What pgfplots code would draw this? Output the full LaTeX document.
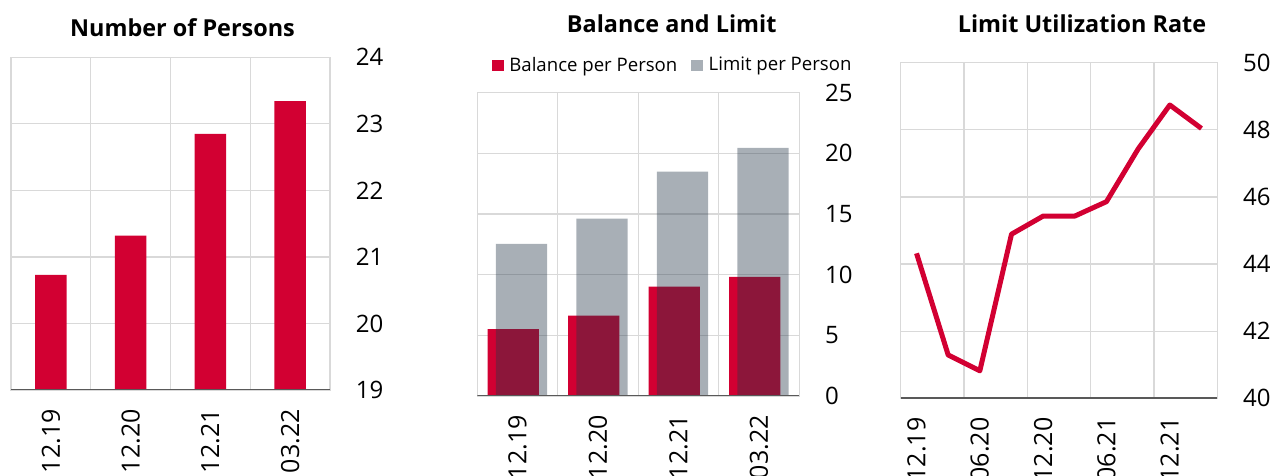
\documentclass[border=0pt]{standalone}
\usepackage{fontspec}
\setmainfont{Open Sans}
\usepackage{pgfplots}
\pgfplotsset{compat=1.18}

\definecolor{brandred}{RGB}{210,0,50}
\definecolor{slate}{RGB}{37,55,72}
\definecolor{gridgray}{RGB}{217,217,217}
\definecolor{axisdark}{RGB}{89,89,89}

\pgfplotsset{
  panel/.style={
    scale only axis,
    axis line style={draw=gridgray, line width=0.6pt},
    grid style={draw=gridgray, line width=0.6pt},
    ymajorgrids, xminorgrids,
    tick style={draw=none},
    major tick length=0pt, minor tick length=0pt,
    yticklabel pos=right,
    /pgf/number format/assume math mode=true,
    tick label style={inner sep=0pt},
    yticklabel style={anchor=west, font=\fontsize{12}{14}\selectfont},
    yticklabel shift=12.7pt,
    xticklabel style={rotate=90, anchor=east, font=\fontsize{12.5}{14}\selectfont},
    xticklabel shift=9.5pt,
    title style={font=\bfseries\fontsize{11.7}{14}\selectfont, anchor=base},
  }
}

\begin{document}
\begin{tikzpicture}
% Number of Persons
\begin{axis}[panel, at={(5.5pt,43pt)}, anchor=south west,
    width=159.5pt, height=166.35pt,
    xmin=-0.5, xmax=3.5, ymin=19, ymax=24, ytick={19,...,24},
    xtick={0,1,2,3}, xticklabels={12.19,12.20,12.21,03.22},
    minor xtick={0.5,1.5,2.5},
    title={Number of Persons}, title style={at={(0.5376,1.0273)}},
    ybar, bar width=15.85pt]
\addplot[fill=brandred, draw=none] coordinates {(0,20.73) (1,21.32) (2,22.85) (3,23.34)};
\draw[axisdark, line width=1pt] (rel axis cs:0,0) -- (rel axis cs:1,0);
\end{axis}

% Balance and Limit
\begin{axis}[panel, at={(238.65pt,40pt)}, anchor=south west,
    width=161pt, height=151.65pt,
    xmin=-0.5, xmax=3.5, ymin=0, ymax=25, ytick={0,5,...,25},
    xtick={0,1,2,3}, xticklabels={12.19,12.20,12.21,03.22},
    minor xtick={0.5,1.5,2.5},
    title={Balance and Limit}, title style={at={(0.6037,1.1595)}},
    ybar, bar width=25.65pt,
    legend columns=2,
    legend image code/.code={\fill[#1] (0pt,-2.9pt) rectangle (5.8pt,2.9pt);},
    legend style={font=\fontsize{9.3}{11}\selectfont, draw=none, fill=none,
        inner sep=0pt, nodes={inner sep=0pt}, at={(0.0447,1.0897)}, anchor=west,
        /tikz/every odd column/.append style={column sep=2.85pt},
        /tikz/every even column/.append style={column sep=7pt}}]
\addplot[fill=brandred, draw=none, bar shift=-2.2pt] coordinates {(0,5.52) (1,6.62) (2,9.01) (3,9.81)};
\addlegendentry{Balance per Person}
\addplot[fill=slate, fill opacity=0.4, draw=none, bar shift=2pt] coordinates {(0,12.53) (1,14.62) (2,18.49) (3,20.45)};
\addlegendentry{Limit per Person}
\draw[axisdark, line width=1pt] (rel axis cs:0,0) -- (rel axis cs:1,0);
\end{axis}

% Limit Utilization Rate
\begin{axis}[panel, at={(450.35pt,38.85pt)}, anchor=south west,
    width=158.3pt, height=167.8pt,
    xmin=-0.5, xmax=9.5, ymin=40, ymax=50, ytick={40,42,...,50},
    xtick={0,2,4,6,8}, xticklabels={12.19,06.20,12.20,06.21,12.21},
    minor xtick={1.5,3.5,5.5,7.5},
    title={Limit Utilization Rate}, title style={at={(0.5727,1.0548)}}]
\addplot[brandred, line width=2.5pt, line join=round, mark=none] coordinates {
    (0,44.32) (1,41.29) (2,40.82) (3,44.89) (4,45.43)
    (5,45.43) (6,45.86) (7,47.43) (8,48.74) (9,48.04)};
\draw[axisdark, line width=1pt] (rel axis cs:0,0) -- (rel axis cs:1,0);
\end{axis}

\pgfresetboundingbox
\path[use as bounding box] (0,0) rectangle (643pt,238pt);
\end{tikzpicture}
\end{document}
